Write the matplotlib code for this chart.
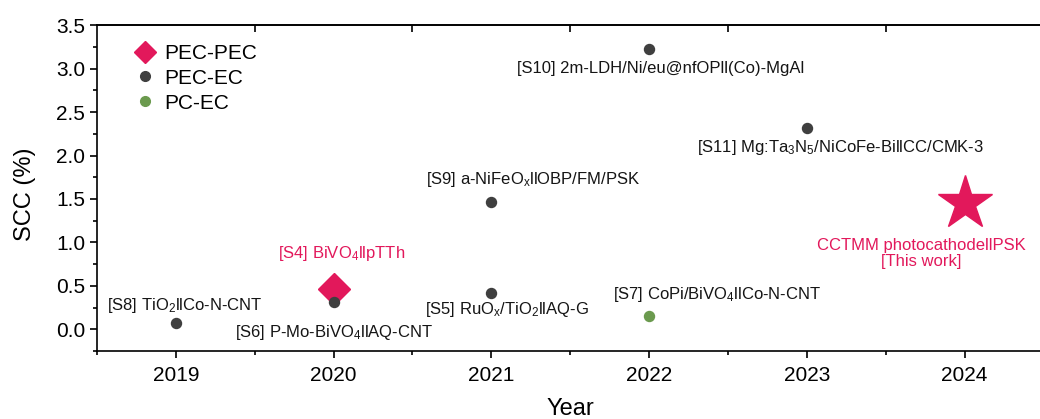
import numpy as np
import matplotlib
matplotlib.use('Agg')
import matplotlib.pyplot as plt
from matplotlib.lines import Line2D
from matplotlib.ticker import MultipleLocator

plt.rcParams['font.family'] = ['Liberation Sans', 'DejaVu Sans']
plt.rcParams['mathtext.fontset'] = 'custom'
plt.rcParams['mathtext.rm'] = 'Liberation Sans'
plt.rcParams['mathtext.it'] = 'Liberation Sans'

# data
ec_years = [2019, 2020, 2021, 2021, 2022, 2023]
ec_scc = [0.07, 0.31, 0.42, 1.46, 3.23, 2.32]
ec_labels = ['[S8] TiO$_2$llCo-N-CNT',
             '[S6] P-Mo-BiVO$_4$llAQ-CNT',
             '[S5] RuO$_\\mathrm{x}$/TiO$_2$llAQ-G',
             '[S9] a-NiFeO$_\\mathrm{x}$llOBP/FM/PSK',
             '[S10] 2m-LDH/Ni/eu@nfOPll(Co)-MgAl',
             '[S11] Mg:Ta$_3$N$_5$/NiCoFe-BillCC/CMK-3']
ec_offsets = [(6.5, 13), (0, -22), (11, -12), (30, 16.5), (8, -14.5), (24, -14)]

pec_years = [2020]
pec_scc = [0.46]
pec_labels = ['[S4] BiVO$_4$llpTTh']

pc_years = [2022]
pc_scc = [0.15]
pc_labels = ['[S7] CoPi/BiVO$_4$llCo-N-CNT']

tw_year = 2024
tw_scc = 1.45
tw_label = 'CCTMM photocathodellPSK\n[This work]'

red = '#E2185B'
gray = '#3F3F3F'
green = '#6B9A4E'

fig = plt.figure(figsize=(10.4, 4.19), dpi=100)
ax = fig.add_axes([0.0933, 0.162, 0.91, 0.778])

ax.plot(ec_years, ec_scc, 'o', color=gray, ms=7.2, ls='none', zorder=3)
ax.plot(pec_years, pec_scc, 'D', color=red, ms=16, ls='none', zorder=2)
ax.plot(pc_years, pc_scc, 'o', color=green, ms=7.2, ls='none', zorder=3)
ax.plot([tw_year], [tw_scc], '*', color=red, ms=41, ls='none', zorder=3)

fs = 12
for x, y, t, off in zip(ec_years, ec_scc, ec_labels, ec_offsets):
    ax.annotate(t, (x, y), xytext=off, textcoords='offset points',
                ha='center', va='center', fontsize=fs, color='#151515')
ax.annotate(pec_labels[0], (pec_years[0], pec_scc[0]), xytext=(6, 26),
            textcoords='offset points', ha='center', va='center',
            fontsize=fs, color=red)
ax.annotate(pc_labels[0], (pc_years[0], pc_scc[0]), xytext=(49, 16),
            textcoords='offset points', ha='center', va='center',
            fontsize=fs, color='#151515')
ax.annotate(tw_label, (tw_year, tw_scc), xytext=(-31, -36),
            textcoords='offset points', ha='center', va='center',
            fontsize=fs, color=red, linespacing=1.1)

ax.set_xlim(2018.5, 2024.5)
ax.set_ylim(-0.25, 3.5)
ax.xaxis.set_major_locator(MultipleLocator(1))
ax.xaxis.set_minor_locator(MultipleLocator(0.5))
ax.yaxis.set_major_locator(MultipleLocator(0.5))
ax.yaxis.set_minor_locator(MultipleLocator(0.25))
ax.tick_params(which='both', direction='out', width=1.2, labelsize=15)
ax.tick_params(which='major', length=5)
ax.tick_params(which='minor', length=3)
ax.tick_params(axis='x', pad=6)
ax.set_xticks(range(2019, 2025))
ax.set_xticklabels([str(v) for v in range(2019, 2025)])
ax.set_yticks(np.arange(0, 3.51, 0.5))
ax.set_yticklabels(['%.1f' % v for v in np.arange(0, 3.51, 0.5)])
ax.set_ylim(-0.25, 3.5)
for s in ax.spines.values():
    s.set_linewidth(1.2)
ax.spines['right'].set_visible(False)

# top axis: inward ticks at the half years
top = ax.secondary_xaxis('top')
top.set_xticks(np.arange(2019.5, 2024.5, 1))
top.set_xticklabels([])
top.tick_params(direction='in', length=5, width=1.2)
top.spines['top'].set_linewidth(1.2)

ax.set_xlabel('Year', fontsize=17)
ax.xaxis.set_label_coords(0.5, -0.145)
ax.set_ylabel('SCC (%)', fontsize=17)
ax.yaxis.set_label_coords(-0.065, 0.48)

handles = [Line2D([], [], marker='D', color=red, ls='none', ms=11.5),
           Line2D([], [], marker='o', color=gray, ls='none', ms=7),
           Line2D([], [], marker='o', color=green, ls='none', ms=7)]
ax.legend(handles, ['PEC-PEC', 'PEC-EC', 'PC-EC'], loc='upper left',
          bbox_to_anchor=(0.015, 1.0), frameon=False, fontsize=15,
          handletextpad=0.25, labelspacing=0.28, handlelength=1.4)

fig.savefig('out.png', dpi=100)
